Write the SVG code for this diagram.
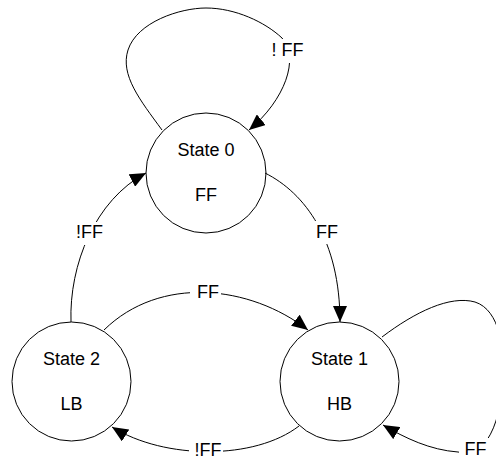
<svg xmlns="http://www.w3.org/2000/svg" width="496" height="460" viewBox="0 0 496 460">
  <style>
    .node circle { fill: #ffffff; stroke: #000000; stroke-width: 1; }
    .node text { font-family: "Liberation Sans", Arial, sans-serif; font-size: 18px; fill: #000000; text-anchor: middle; }
    .edge { fill: none; stroke: #000000; stroke-width: 1; marker-end: url(#arrow); }
    .lbg { fill: #ffffff; stroke: none; }
    .lbl { font-family: "Liberation Sans", Arial, sans-serif; font-size: 18px; fill: #000000; text-anchor: middle; }
  </style>
  <defs>
    <marker id="arrow" markerUnits="userSpaceOnUse" markerWidth="16" markerHeight="14" refX="16" refY="7" orient="auto">
      <path d="M0,0 L16,7 L0,14 z" fill="#000000"/>
    </marker>
  </defs>
  <rect x="0" y="0" width="496" height="460" fill="#ffffff"/>

  <g id="state0" class="node">
    <circle cx="206" cy="173" r="60"/>
    <text x="206" y="156">State 0</text>
    <text x="206" y="201">FF</text>
  </g>
  <g id="state1" class="node">
    <circle cx="339.5" cy="381.5" r="59.5"/>
    <text x="339.5" y="365">State 1</text>
    <text x="339.5" y="410">HB</text>
  </g>
  <g id="state2" class="node">
    <circle cx="71.5" cy="381.5" r="59.5"/>
    <text x="71.5" y="365">State 2</text>
    <text x="71.5" y="410">LB</text>
  </g>

  <g id="connectors">
    <path class="edge" d="M162,130 C140,100 120,75 128,50 C137,22 180,8 206,8 C235,8 265,22 282,38 C300,58 285,100 249,130"/>
    <path class="edge" d="M265,173 C305,193 340,240 340,322"/>
    <path class="edge" d="M71,322 C69,265 95,200 146,173"/>
    <path class="edge" d="M104,330 C160,275 250,285 308,330"/>
    <path class="edge" d="M299,426 C255,460 165,460 112,427"/>
    <path class="edge" d="M382,337 C415,312 450,295 475,302 C500,310 505,350 503,380 C501,405 497,425 487,440 C478,452 468,454 458,452 C430,450 405,438 383,425"/>
  </g>

  <g id="labels">
    <rect class="lbg" x="268" y="39" width="38" height="24"/>
    <text class="lbl" x="287.5" y="56">! FF</text>
    <rect class="lbg" x="313" y="221" width="28" height="23"/>
    <text class="lbl" x="327" y="238">FF</text>
    <rect class="lbg" x="73" y="222" width="33" height="23"/>
    <text class="lbl" x="89.5" y="238">!FF</text>
    <rect class="lbg" x="190" y="282" width="31" height="20"/>
    <text class="lbl" x="208" y="298">FF</text>
    <rect class="lbg" x="189" y="441" width="34" height="19"/>
    <text class="lbl" x="208" y="456">!FF</text>
    <rect class="lbg" x="459" y="438" width="30" height="20"/>
    <text class="lbl" x="475.5" y="455">FF</text>
  </g>
</svg>
